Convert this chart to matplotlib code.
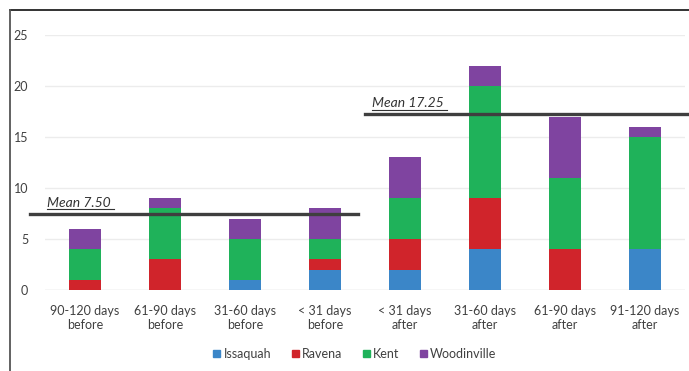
import matplotlib
matplotlib.use("Agg")
import matplotlib.pyplot as plt
from matplotlib.lines import Line2D
from matplotlib.patches import Rectangle
import numpy as np

plt.rcParams['font.family'] = ['Lato', 'DejaVu Sans']

categories = ["90-120 days\nbefore", "61-90 days\nbefore", "31-60 days\nbefore",
              "< 31 days\nbefore", "< 31 days\nafter", "31-60 days\nafter",
              "61-90 days\nafter", "91-120 days\nafter"]
series_names = ["Issaquah", "Ravena", "Kent", "Woodinville"]
issaquah = [0, 0, 1, 2, 2, 4, 0, 4]
ravena = [1, 3, 0, 1, 3, 5, 4, 0]
kent = [3, 5, 4, 2, 4, 11, 7, 11]
woodinville = [2, 1, 2, 3, 4, 2, 6, 1]
colors = ["#3b86c8", "#d0242b", "#1fb25a", "#7f44a0"]
mean_before = 7.50
mean_after = 17.25
yticks = [0, 5, 10, 15, 20, 25]

fig = plt.figure(figsize=(6.89, 3.71), dpi=100)
ax = fig.add_axes([45 / 689, 1 - 290 / 371, 640 / 689, 255 / 371])

x = np.arange(len(categories))
bottom = np.zeros(len(categories))
for name, vals, c in zip(series_names, [issaquah, ravena, kent, woodinville], colors):
    ax.bar(x, vals, width=0.4, bottom=bottom, color=c, label=name, zorder=3)
    bottom += np.array(vals)

ax.set_xlim(-0.5, len(categories) - 0.5)
ax.set_ylim(0, 25)
ax.set_yticks(yticks)
ax.set_xticks(x)
ax.set_xticklabels(categories, fontsize=9, color="#404040", linespacing=1.15)
ax.tick_params(axis='y', labelsize=9, labelcolor="#404040", length=0, pad=12)
ax.tick_params(axis='x', length=0, pad=11)
ax.yaxis.grid(True, color="#ececec", linewidth=1, zorder=0)
for s in ax.spines.values():
    s.set_visible(False)
ax.axhline(0, color="#e4e4e4", linewidth=1, zorder=1)

# mean lines for the before / after periods
ax.plot([-0.69, 3.41], [mean_before, mean_before], color="#3f3f3f", lw=2.4,
        zorder=4, clip_on=False)
ax.plot([3.5, 7.6], [mean_after, mean_after], color="#3f3f3f", lw=2.4,
        zorder=4, clip_on=False)
ax.text(-0.47, mean_before + 0.45, f"Mean {mean_before:.2f}", fontsize=10,
        style='italic', color="#333333", ha='left', va='bottom', zorder=5)
ax.text(3.59, mean_after + 0.45, f"Mean {mean_after:.2f}", fontsize=10,
        style='italic', color="#333333", ha='left', va='bottom', zorder=5)
# underline the labels
ax.plot([-0.47, 0.36], [mean_before + 0.4, mean_before + 0.4], color="#333333", lw=0.8, zorder=5)
ax.plot([3.59, 4.53], [mean_after + 0.4, mean_after + 0.4], color="#333333", lw=0.8, zorder=5)

handles = [Rectangle((0, 0), 1, 1, color=c) for c in colors]
fig.legend(handles, series_names, loc='center', bbox_to_anchor=(355 / 689, 1 - 354 / 371),
           ncol=4, frameon=False, fontsize=9, handlelength=0.55, handleheight=0.55,
           handletextpad=0.3, columnspacing=1.6, labelcolor="#404040")

# frame lines along the top and left of the figure
fig.add_artist(Line2D([10 / 689, 1], [1 - 10 / 371, 1 - 10 / 371], color="#222222", lw=1.3))
fig.add_artist(Line2D([10 / 689, 10 / 689], [0, 1 - 10 / 371], color="#555555", lw=1.3))

fig.savefig("out.png", dpi=100)
